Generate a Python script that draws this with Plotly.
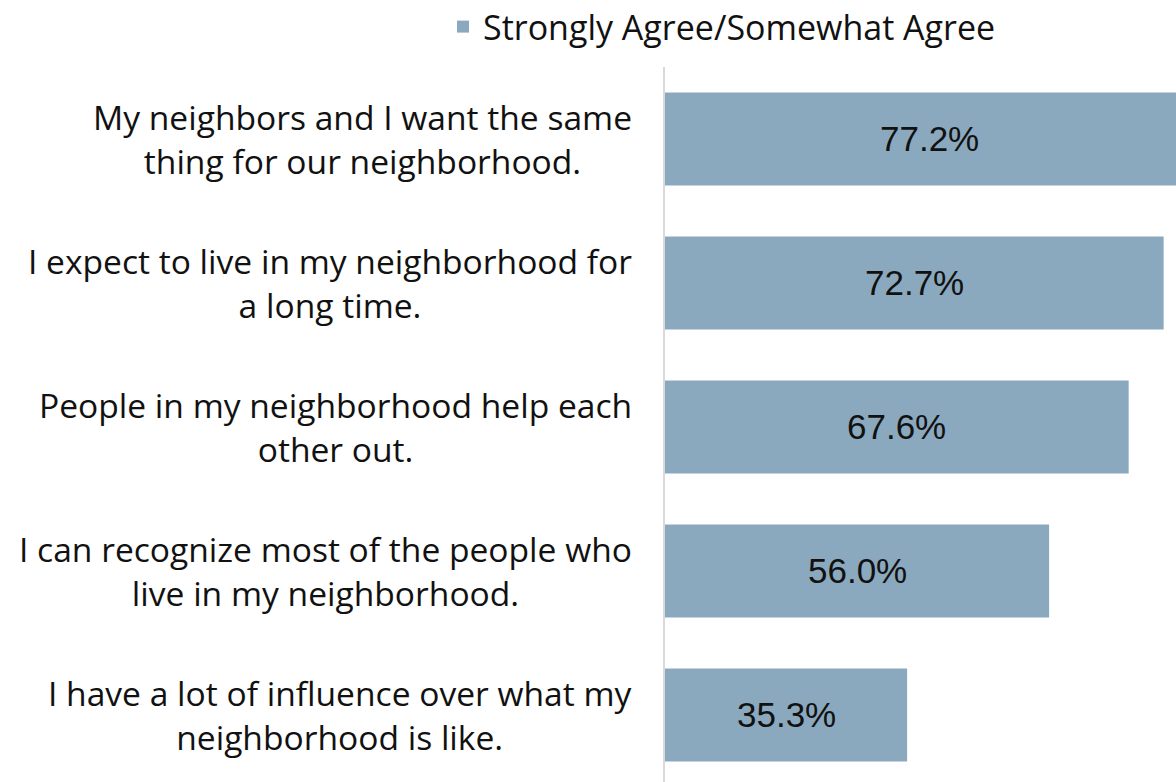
import plotly.graph_objects as go

categories = [
    "My neighbors and I want the same<br>thing for our neighborhood.",
    "I expect to live in my neighborhood for<br>a long time.",
    "People in my neighborhood help each<br>other out.",
    "I can recognize most of the people who<br>live in my neighborhood.",
    "I have a lot of influence over what my<br>neighborhood is like.",
]
values = [77.2, 72.7, 67.6, 56.0, 35.3]
value_labels = ["77.2%", "72.7%", "67.6%", "56.0%", "35.3%"]
series_name = "Strongly Agree/Somewhat Agree"

BAR = "#8BA9BE"
LABEL_FONT = "Open Sans"
VALUE_FONT = "Liberation Sans Narrow, Arial Narrow, Liberation Sans"
W, H = 1176, 782

fig = go.Figure()
fig.add_trace(go.Bar(
    y=categories, x=values, orientation="h", name=series_name,
    marker=dict(color=BAR, line=dict(width=0)),
    showlegend=True, hoverinfo="skip",
))

for c, v, t in zip(categories, values, value_labels):
    fig.add_annotation(
        x=v / 2, xref="x", y=c, yref="y", text=t, showarrow=False,
        xanchor="center", yanchor="middle", yshift=1,
        font=dict(family=VALUE_FONT, size=35, color="#111111"),
    )

for c in categories:
    fig.add_annotation(
        x=0, xref="paper", y=c, yref="y", text=c, showarrow=False,
        xanchor="right", yanchor="middle", align="center", xshift=-31,
        font=dict(family=LABEL_FONT, size=33.6, color="#111111"),
    )

fig.update_layout(
    width=W, height=H,
    margin=dict(l=665, r=0, t=67, b=0),
    plot_bgcolor="white", paper_bgcolor="white",
    bargap=0.354,
    showlegend=True,
    legend=dict(
        orientation="h", x=443 / W, xref="container", xanchor="left",
        y=1 - 27 / H, yref="container", yanchor="middle",
        font=dict(family=LABEL_FONT, size=34, color="#111111"),
        itemwidth=30,
    ),
    xaxis=dict(range=[0, 74.5], showgrid=False, zeroline=False,
               showticklabels=False, showline=False, fixedrange=True),
    yaxis=dict(range=[4.465, -0.5], showgrid=False, zeroline=False,
               showticklabels=False, showline=True, linecolor="#D9D9D9",
               linewidth=2, ticks="", fixedrange=True),
)
fig.write_html(
    "out.html",
    config={"displayModeBar": False},
    post_script="document.body.style.margin='0';document.body.style.overflow='hidden';",
)
